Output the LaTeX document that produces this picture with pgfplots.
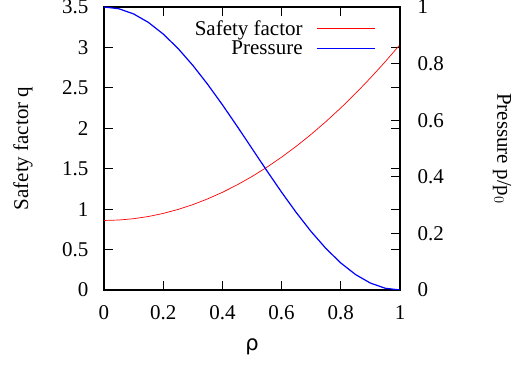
\documentclass[border=0pt]{standalone}
\usepackage{fontspec}
\setmainfont{Liberation Serif}
\newfontfamily\dejavu{DejaVu Sans}
\usepackage{pgfplots}
\pgfplotsset{compat=1.18}
\begin{document}
\begin{tikzpicture}[x=1pt,y=1pt]
\path[use as bounding box] (-104,-79) rectangle (410,290);
\pgfplotsset{
  every axis/.append style={
    scale only axis, width=296pt, height=283pt,
    at={(0,0)}, anchor=south west,
    font=\fontsize{21}{24}\selectfont,
    /pgf/number format/assume math mode=true,
    tick style={black, line width=0.8pt},
    major tick length=9pt,
    axis line style={line width=1.3pt},
    xmin=0, xmax=1,
  }
}
\begin{axis}[
  ymin=0, ymax=3.5,
  xtick={0,0.2,...,1.0},
  ytick={0,0.5,...,3.5},
  yticklabels={0,0.5,1,1.5,2,2.5,3,3.5},
  xticklabels={0,0.2,0.4,0.6,0.8,1},
  tick align=inside,
  xtick pos=both, ytick pos=both,
  yticklabel pos=left, xticklabel pos=bottom,
  xticklabel style={yshift=-12pt},
  yticklabel style={xshift=-12pt},
  xlabel={{\dejavu ρ}},
  xlabel style={at={(axis description cs:0.5,-0.2)}, anchor=center},
  ylabel={Safety factor q},
  ylabel style={at={(axis description cs:-0.274,0.5)}, anchor=center, rotate=0},
]
\addplot[red, line width=0.7pt] coordinates {
(0,0.86) (0.05,0.86544) (0.1,0.88175) (0.15,0.90894) (0.2,0.947) (0.25,0.99594)
(0.3,1.05575) (0.35,1.12644) (0.4,1.208) (0.45,1.30044) (0.5,1.40375) (0.55,1.51794)
(0.6,1.643) (0.65,1.77894) (0.7,1.92575) (0.75,2.08344) (0.8,2.252) (0.85,2.43144)
(0.9,2.62175) (0.95,2.82294) (1,3.035)};
\end{axis}
\begin{axis}[
  ymin=0, ymax=1,
  axis x line=none,
  axis y line*=right,
  ytick={0,0.2,...,1.0},
  yticklabels={0,0.2,0.4,0.6,0.8,1},
  tick align=inside,
  yticklabel style={xshift=14pt},
  ylabel={Pressure p/p$_0$},
  ylabel style={at={(axis description cs:1.345,0.5)}, anchor=center, rotate=180},
  legend style={draw=none, fill=none, inner sep=0pt, at={(axis description cs:0.919,0.96)}, anchor=north east,
    font=\fontsize{21}{24}\selectfont, row sep=0pt},
  legend cell align=right,
  legend plot pos=right,
  legend image code/.code={\path (0pt,0pt); \draw[#1] (12pt,0pt) -- (70pt,0pt);},
]
\addlegendimage{red, line width=0.7pt}
\addlegendentry{Safety factor}
\addplot[blue, line width=1.2pt] coordinates {
(0,1) (0.05,0.99384) (0.1,0.97553) (0.15,0.94550) (0.2,0.90451) (0.25,0.85355)
(0.3,0.79389) (0.35,0.72700) (0.4,0.65451) (0.45,0.57822) (0.5,0.5) (0.55,0.42178)
(0.6,0.34549) (0.65,0.27300) (0.7,0.20611) (0.75,0.14645) (0.8,0.09549) (0.85,0.05450)
(0.9,0.02447) (0.95,0.00616) (1,0)};
\addlegendentry{Pressure}
\end{axis}
\end{tikzpicture}
\end{document}
